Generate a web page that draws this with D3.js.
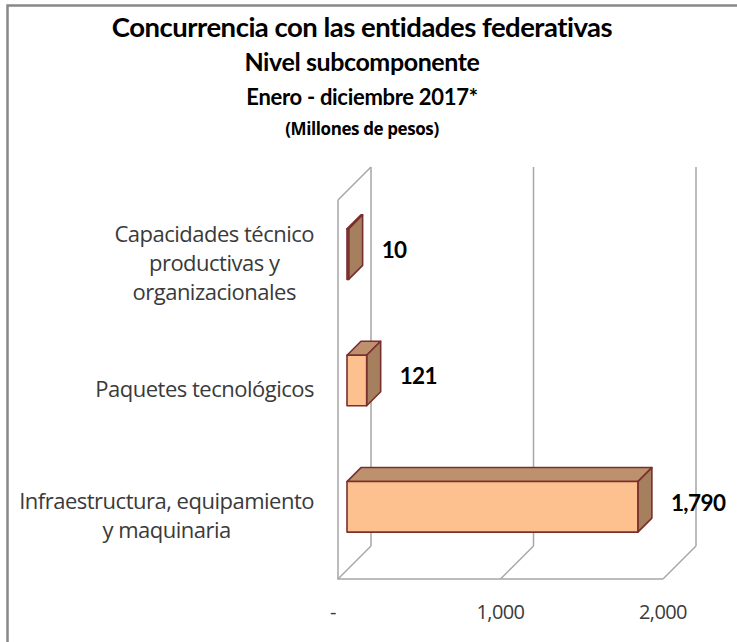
<!DOCTYPE html>
<html>
<head>
<meta charset="utf-8">
<script src="https://cdn.jsdelivr.net/npm/d3@7"></script>
<style>
  body { margin: 0; background: #fff; }
  svg { display: block; }
</style>
</head>
<body>
<div id="chart"></div>
<script>

const width = 737 ;
const height = 642 ;

// datos
const categorias = [ "Capacidades técnico productivas y organizacionales", "Paquetes tecnológicos", "Infraestructura, equipamiento y maquinaria" ] ;
const lineasCategoria = [ ["Capacidades técnico", "productivas y", "organizacionales"], ["Paquetes tecnológicos"], ["Infraestructura, equipamiento", "y maquinaria"] ] ;
const valores = [ 10, 121, 1790 ] ;
const etiquetasValor = [ "10", "121", "1,790" ] ;
const ticks = [ 0, 1000, 2000 ] ;
const etiquetasTick = [ "-", "1,000", "2,000" ] ;
const titulos = [ "Concurrencia con las entidades federativas", "Nivel subcomponente", "Enero - diciembre 2017*", "(Millones de pesos)" ] ;

const fuenteTitulo = "Lato, 'Open Sans', sans-serif"
const fuente = "'Open Sans', Lato, sans-serif"

const svg = d3.select( "#chart" ).append( "svg" )
	.attr( "width", width )
	.attr( "height", height )

// marco (solo arriba e izquierda se ven)
svg.append( "path" )
	.attr( "d", "M7.5," + height + " V5.5 H" + width )
	.attr( "fill", "none" )
	.attr( "stroke", "#888" )
	.attr( "stroke-width", 2.5 )

// titulos
const tamTitulo = [ 27.5, 25, 22, 17 ]
const yTitulo = [ 37, 71, 105, 135 ]
const fuenteT = [ fuenteTitulo, fuenteTitulo, fuenteTitulo, fuente ]
const espacioT = [ -0.5, -0.4, -0.3, -0.4 ]
svg.selectAll( "text.titulo" )
	.data( titulos )
	.enter().append( "text" )
		.attr( "class", "titulo" )
		.attr( "x", 362 )
		.attr( "y", function(d,i) { return yTitulo[i] } )
		.attr( "text-anchor", "middle" )
		.attr( "font-family", function(d,i) { return fuenteT[i] } )
		.attr( "font-weight", "bold" )
		.attr( "font-size", function(d,i) { return tamTitulo[i] } )
		.attr( "letter-spacing", function(d,i) { return espacioT[i] } )
		.text( function(d) { return d } )

// escalas (plano frontal)
const depth = 33
const d0 = 9
const d1 = 23

const x = d3.scaleLinear().domain( [0, 2000] ).range( [338, 663] )
const y = d3.scaleBand().domain( categorias ).range( [200, 579] ).paddingInner( 0.6 ).paddingOuter( 0.3 )

const gris = "#a6a6a6"
const paredes = svg.append( "g" ).attr( "class", "paredes" )
	.attr( "stroke", gris )
	.attr( "stroke-width", 1.5 )
	.attr( "fill", "none" )

// lineas de la pared del fondo
paredes.selectAll( "line.grid" )
	.data( ticks )
	.enter().append( "line" )
		.attr( "class", "grid" )
		.attr( "x1", function(d) { return x(d) + depth } )
		.attr( "x2", function(d) { return x(d) + depth } )
		.attr( "y1", y.range()[0] - depth )
		.attr( "y2", y.range()[1] - depth )

// diagonales del piso
paredes.selectAll( "line.piso" )
	.data( ticks )
	.enter().append( "line" )
		.attr( "class", "piso" )
		.attr( "x1", function(d) { return x(d) } )
		.attr( "x2", function(d) { return x(d) + depth } )
		.attr( "y1", y.range()[1] )
		.attr( "y2", y.range()[1] - depth )

// borde frontal del piso y pared izquierda
paredes.append( "path" )
	.attr( "d", "M" + x(0) + "," + (y.range()[0]) + " L" + (x(0) + depth) + "," + (y.range()[0] - depth)
		+ " M" + x(0) + "," + y.range()[0] + " V" + y.range()[1] + " H" + x(2000) )

// barras 3d
const bw = y.bandwidth()
const barras = svg.selectAll( "g.barra" )
	.data( valores )
	.enter().append( "g" )
		.attr( "class", "barra" )
		.attr( "stroke", "#7a2f2f" )
		.attr( "stroke-width", 1.6 )
		.attr( "stroke-linejoin", "round" )

barras.append( "polygon" )
	.attr( "fill", "#bd916e" )
	.attr( "points", function(d,i) {
		const yt = y( categorias[i] )
		return [ [x(0)+d0, yt-d0], [x(0)+d1, yt-d1], [x(d)+d1, yt-d1], [x(d)+d0, yt-d0] ].join( " " )
	} )

barras.append( "polygon" )
	.attr( "fill", "#a67f5e" )
	.attr( "points", function(d,i) {
		const yt = y( categorias[i] )
		const yb = yt + bw
		return [ [x(d)+d0, yt-d0], [x(d)+d1, yt-d1], [x(d)+d1, yb-d1], [x(d)+d0, yb-d0] ].join( " " )
	} )

barras.append( "rect" )
	.attr( "fill", "#fcc18e" )
	.attr( "x", x(0) + d0 )
	.attr( "y", function(d,i) { return y( categorias[i] ) - d0 } )
	.attr( "width", function(d) { return x(d) - x(0) } )
	.attr( "height", bw )

// etiquetas de valor
svg.selectAll( "text.valor" )
	.data( valores )
	.enter().append( "text" )
		.attr( "class", "valor" )
		.attr( "x", function(d) { return x(d) + d1 + 19 } )
		.attr( "y", function(d,i) { return y( categorias[i] ) + bw/2 - d0 - 4 } )
		.attr( "dy", "0.35em" )
		.attr( "font-family", fuenteTitulo )
		.attr( "font-weight", "bold" )
		.attr( "font-size", 22.5 )
		.attr( "letter-spacing", -0.6 )
		.text( function(d,i) { return etiquetasValor[i] } )

// etiquetas del eje x
svg.selectAll( "text.tick" )
	.data( ticks )
	.enter().append( "text" )
		.attr( "class", "tick" )
		.attr( "x", function(d) { return x(d) } )
		.attr( "dx", function(d) { return d === 0 ? -5 : 0 } )
		.attr( "y", 612 )
		.attr( "dy", "0.35em" )
		.attr( "text-anchor", "middle" )
		.attr( "font-family", fuente )
		.attr( "font-size", 20 )
		.attr( "letter-spacing", -0.6 )
		.attr( "fill", "#3a3a3a" )
		.text( function(d,i) { return etiquetasTick[i] } )

// etiquetas de categoria
const altoLinea = 29
const derecha = 314
categorias.forEach( function(c, i) {
	const lineas = lineasCategoria[i]
	const g = svg.append( "g" ).attr( "class", "categoria" )
	const textos = g.selectAll( "text" )
		.data( lineas )
		.enter().append( "text" )
			.attr( "y", function(d,j) { return y(c) + bw/2 + (j - (lineas.length-1)/2) * altoLinea } )
			.attr( "dy", "0.35em" )
			.attr( "text-anchor", "middle" )
			.attr( "font-family", fuente )
			.attr( "font-size", 22 )
			.attr( "letter-spacing", -0.5 )
			.attr( "fill", "#3a3a3a" )
			.text( function(d) { return d } )
	var maxW = 0
	textos.each( function() { maxW = Math.max( maxW, this.getComputedTextLength() ) } )
	textos.attr( "x", derecha - maxW/2 )
} )

</script>
</body>
</html>
